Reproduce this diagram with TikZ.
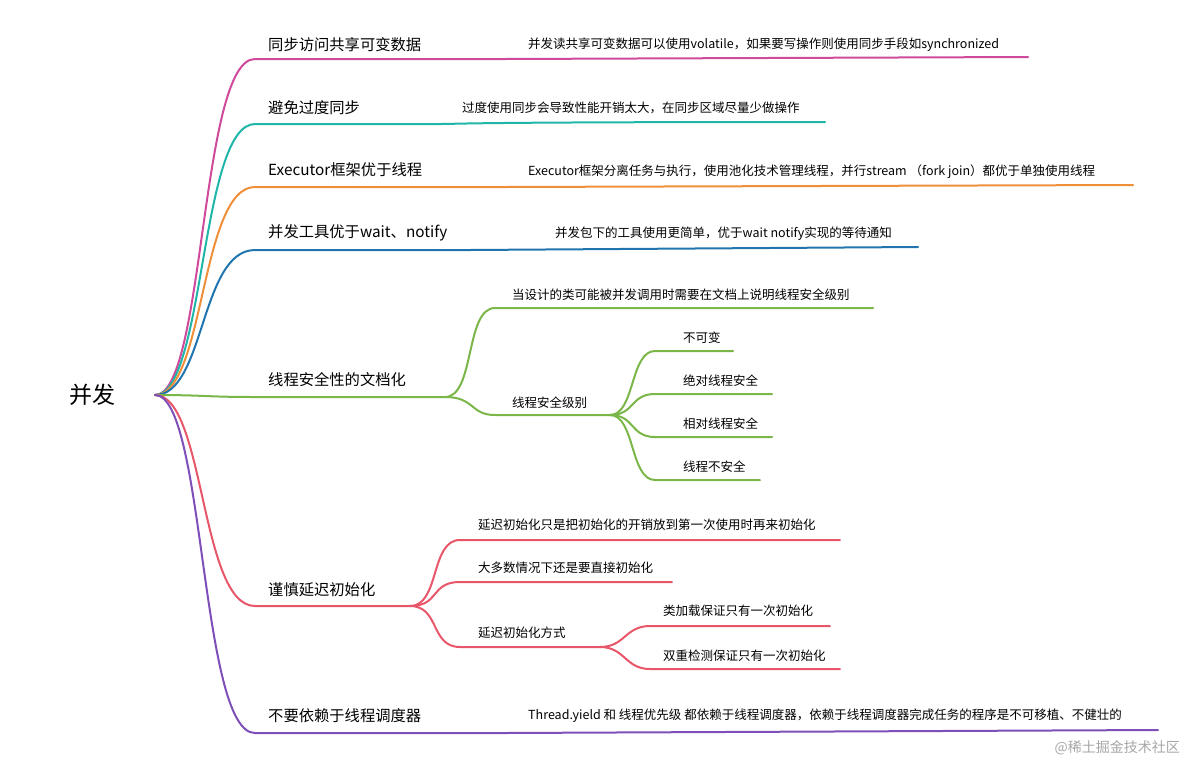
\documentclass[tikz,border=0pt]{standalone}
\usepackage{fontspec}
\setmainfont{Noto Sans CJK SC}
\begin{document}
\begin{tikzpicture}[x=1pt,y=-1pt,
  main/.style={anchor=west,font=\fontsize{15.3}{17}\selectfont,inner sep=0pt},
  sub/.style={anchor=west,font=\fontsize{12.5}{14}\selectfont,inner sep=0pt},
  br/.style={line width=2pt,line cap=round}]
\useasboundingbox (0,0) rectangle (1186,764);
\definecolor{cA}{HTML}{D04A9C}\definecolor{cB}{HTML}{1FB5A8}
\definecolor{cC}{HTML}{EF8F3A}\definecolor{cD}{HTML}{2175AE}
\definecolor{cE}{HTML}{7AB648}\definecolor{cF}{HTML}{E8566A}
\definecolor{cG}{HTML}{7E4FB8}
\node[font=\fontsize{23}{25}\selectfont,inner sep=0pt] (root) at (92,395) {并发};
\coordinate (r) at (155,395);
% branch 1
\coordinate (a0) at (255,59); \coordinate (a1) at (505,59); \coordinate (a2) at (1028,57);
\draw[br,cA] (r) .. controls (205,395) and (200,59) .. (a0) -- (a1) -- (a2);
\node[main] (ta) at (268,45) {同步访问共享可变数据};
\node[sub] (sa) at (528,45) {并发读共享可变数据可以使用volatile，如果要写操作则使用同步手段如synchronized};
% branch 2
\coordinate (b0) at (255,124); \coordinate (b1) at (440,124); \coordinate (b2) at (825,122);
\draw[br,cB] (r) .. controls (205,395) and (200,124) .. (b0) -- (b1) .. controls (460,124) and (460,122) .. (b2);
\node[main] (tb) at (268,108) {避免过度同步};
\node[sub] (sb) at (462,108) {过度使用同步会导致性能开销太大，在同步区域尽量少做操作};
% branch 3
\coordinate (c0) at (255,187); \coordinate (c1) at (505,187); \coordinate (c2) at (1133,185);
\draw[br,cC] (r) .. controls (205,395) and (200,187) .. (c0) -- (c1) -- (c2);
\node[main] (tc) at (268,170) {Executor框架优于线程};
\node[sub] (sc) at (528,172) {Executor框架分离任务与执行，使用池化技术管理线程，并行stream （fork join）都优于单独使用线程};
% branch 4
\coordinate (d0) at (255,250); \coordinate (d1) at (470,250); \coordinate (d2) at (918,247);
\draw[br,cD] (r) .. controls (205,395) and (200,250) .. (d0) -- (d1) -- (d2);
\node[main] (td) at (268,233) {并发工具优于wait、notify};
\node[sub] (sd) at (555,234) {并发包下的工具使用更简单，优于wait notify实现的等待通知};
% branch 5
\coordinate (e0) at (255,397); \coordinate (e1) at (445,397);
\draw[br,cE] (r) .. controls (205,395) and (205,397) .. (e0) -- (e1);
\node[main] (te) at (268,380) {线程安全性的文档化};
\coordinate (e2) at (495,308); \coordinate (e3) at (873,308);
\draw[br,cE] (e1) .. controls (475,397) and (465,308) .. (e2) -- (e3);
\node[sub] (se1) at (512,295) {当设计的类可能被并发调用时需要在文档上说明线程安全级别};
\coordinate (e4) at (495,415); \coordinate (e5) at (610,415);
\draw[br,cE] (e1) .. controls (475,397) and (470,415) .. (e4) -- (e5);
\node[sub] (se2) at (512,403) {线程安全级别};
\foreach \y/\xe/\t [count=\i] in {351/733/不可变,394/772/绝对线程安全,437/772/相对线程安全,480/760/线程不安全}{
  \coordinate (ee\i) at (655,\y); \coordinate (ef\i) at (\xe,\y);
  \draw[br,cE] (e5) .. controls (635,415) and (630,\y) .. (ee\i) -- (ef\i);
  \node[sub] (tee\i) at (683,\y-13) {\t};}
% branch 6
\coordinate (f0) at (255,606); \coordinate (f1) at (410,606);
\draw[br,cF] (r) .. controls (205,395) and (200,606) .. (f0) -- (f1);
\node[main] (tf) at (268,590) {谨慎延迟初始化};
\coordinate (f2) at (460,540); \coordinate (f3) at (840,540);
\draw[br,cF] (f1) .. controls (440,606) and (430,540) .. (f2) -- (f3);
\node[sub] (sf1) at (478,525) {延迟初始化只是把初始化的开销放到第一次使用时再来初始化};
\coordinate (f4) at (460,582); \coordinate (f5) at (672,582);
\draw[br,cF] (f1) .. controls (440,606) and (430,582) .. (f4) -- (f5);
\node[sub] (sf2) at (478,568) {大多数情况下还是要直接初始化};
\coordinate (f6) at (460,647); \coordinate (f7) at (600,647);
\draw[br,cF] (f1) .. controls (440,606) and (430,647) .. (f6) -- (f7);
\node[sub] (sf3) at (478,633) {延迟初始化方式};
\coordinate (f8) at (650,626); \coordinate (f9) at (830,626);
\draw[br,cF] (f7) .. controls (625,647) and (625,626) .. (f8) -- (f9);
\node[sub] (sf4) at (663,611) {类加载保证只有一次初始化};
\coordinate (f10) at (650,669); \coordinate (f11) at (840,669);
\draw[br,cF] (f7) .. controls (625,647) and (625,669) .. (f10) -- (f11);
\node[sub] (sf5) at (663,656) {双重检测保证只有一次初始化};
% branch 7
\coordinate (g0) at (255,733); \coordinate (g1) at (505,733); \coordinate (g2) at (1158,730);
\draw[br,cG] (r) .. controls (205,395) and (200,733) .. (g0) -- (g1) -- (g2);
\node[main] (tg) at (268,716) {不要依赖于线程调度器};
\node[sub] (sg) at (528,716) {Thread.yield 和 线程优先级 都依赖于线程调度器，依赖于线程调度器完成任务的程序是不可移植、不健壮的};
\node[anchor=east,inner sep=0pt,font=\fontsize{14}{16}\selectfont,text=black!35] (wm) at (1180,748) {@稀土掘金技术社区};
\end{tikzpicture}
\end{document}
